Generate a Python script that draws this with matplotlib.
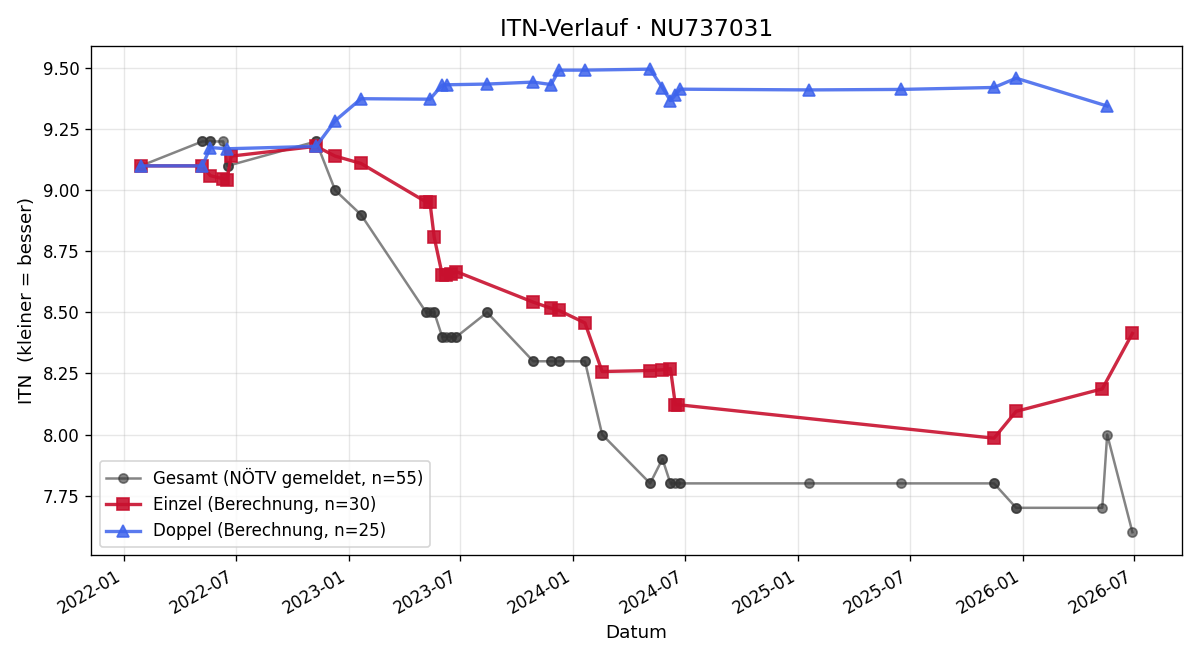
import pandas as pd
import matplotlib
matplotlib.use("Agg")
import matplotlib.pyplot as plt
import matplotlib.dates as mdates

# Gesamt (NÖTV gemeldet) - repeated dates = several reports on the same day
ges_dates = [
    "2022-01-28", "2022-05-08", "2022-05-08", "2022-05-21", "2022-05-21", "2022-06-11",
    "2022-06-18", "2022-06-18", "2022-11-09", "2022-11-09", "2022-12-10", "2022-12-10",
    "2023-01-21", "2023-01-21", "2023-05-07", "2023-05-07", "2023-05-13", "2023-05-20",
    "2023-05-20", "2023-06-02", "2023-06-02", "2023-06-08", "2023-06-16", "2023-06-16",
    "2023-06-25", "2023-06-25", "2023-08-14", "2023-08-14", "2023-10-28", "2023-10-28",
    "2023-11-26", "2023-11-26", "2023-12-09", "2023-12-09", "2024-01-20", "2024-01-20",
    "2024-02-17", "2024-02-17", "2024-05-05", "2024-05-05", "2024-05-25", "2024-05-25",
    "2024-06-07", "2024-06-07", "2024-06-15", "2024-06-23", "2024-06-23", "2025-01-19",
    "2025-06-16", "2025-11-15", "2025-11-15", "2025-12-21", "2025-12-21", "2026-05-10",
    "2026-05-18", "2026-06-28",
]
ges_itn = [
    9.10, 9.20, 9.20, 9.20, 9.20, 9.20,
    9.10, 9.10, 9.20, 9.20, 9.00, 9.00,
    8.90, 8.90, 8.50, 8.50, 8.50, 8.50,
    8.50, 8.40, 8.40, 8.40, 8.40, 8.40,
    8.40, 8.40, 8.50, 8.50, 8.30, 8.30,
    8.30, 8.30, 8.30, 8.30, 8.30, 8.30,
    8.00, 8.00, 7.80, 7.80, 7.90, 7.90,
    7.80, 7.80, 7.80, 7.80, 7.80, 7.80,
    7.80, 7.80, 7.80, 7.70, 7.70, 7.70,
    8.00, 7.60,
]

# Einzel (Berechnung)
ein_dates = [
    "2022-01-28", "2022-05-08", "2022-05-21", "2022-06-11", "2022-06-17", "2022-06-24",
    "2022-11-09", "2022-12-10", "2023-01-21", "2023-05-07", "2023-05-13", "2023-05-20",
    "2023-06-02", "2023-06-08", "2023-06-16", "2023-06-25", "2023-10-28", "2023-11-26",
    "2023-12-09", "2024-01-20", "2024-02-17", "2024-05-05", "2024-05-25", "2024-06-07",
    "2024-06-15", "2024-06-20", "2025-11-15", "2025-12-21", "2026-05-10", "2026-06-28",
]
ein_itn = [
    9.10, 9.10, 9.06, 9.047, 9.043, 9.14,
    9.18, 9.14, 9.11, 8.952, 8.952, 8.807,
    8.655, 8.655, 8.656, 8.667, 8.542, 8.517,
    8.508, 8.457, 8.258, 8.262, 8.265, 8.27,
    8.122, 8.122, 7.985, 8.095, 8.187, 8.414,
]

# Doppel (Berechnung)
dop_dates = [
    "2022-01-28", "2022-05-08", "2022-05-21", "2022-06-17", "2022-11-09", "2022-12-10",
    "2023-01-21", "2023-05-13", "2023-06-02", "2023-06-09", "2023-08-14", "2023-10-28",
    "2023-11-26", "2023-12-09", "2024-01-20", "2024-05-05", "2024-05-25", "2024-06-07",
    "2024-06-15", "2024-06-23", "2025-01-19", "2025-06-16", "2025-11-15", "2025-12-21",
    "2026-05-18",
]
dop_itn = [
    9.10, 9.10, 9.175, 9.17, 9.18, 9.285,
    9.375, 9.373, 9.431, 9.432, 9.435, 9.443,
    9.433, 9.492, 9.492, 9.496, 9.42, 9.367,
    9.39, 9.414, 9.411, 9.413, 9.421, 9.459,
    9.345,
]

ges_dates = pd.to_datetime(ges_dates)
ein_dates = pd.to_datetime(ein_dates)
dop_dates = pd.to_datetime(dop_dates)

fig, ax = plt.subplots(figsize=(10, 5.5), dpi=120)

ax.plot(ges_dates, ges_itn, marker="o", markersize=5.5, linewidth=1.5,
        color="#333333", alpha=0.6, label="Gesamt (NÖTV gemeldet, n=55)")
ax.plot(ein_dates, ein_itn, marker="s", markersize=7, linewidth=2,
        color="#c8102e", alpha=0.9, label="Einzel (Berechnung, n=30)")
ax.plot(dop_dates, dop_itn, marker="^", markersize=7, linewidth=2,
        color="#3d63ec", alpha=0.85, label="Doppel (Berechnung, n=25)")

ax.set_title("ITN-Verlauf · NU737031", fontsize=14)
ax.set_xlabel("Datum", fontsize=11)
ax.set_ylabel("ITN  (kleiner = besser)", fontsize=11)
ax.tick_params(labelsize=10)
ax.xaxis.set_major_locator(mdates.MonthLocator(bymonth=[1, 7]))
ax.xaxis.set_major_formatter(mdates.DateFormatter("%Y-%m"))
ax.yaxis.set_major_formatter(plt.FormatStrFormatter("%.2f"))
ax.grid(True, alpha=0.3)
ax.legend(loc="lower left", fontsize=10)
fig.autofmt_xdate()

plt.tight_layout()
plt.savefig("out.png")
